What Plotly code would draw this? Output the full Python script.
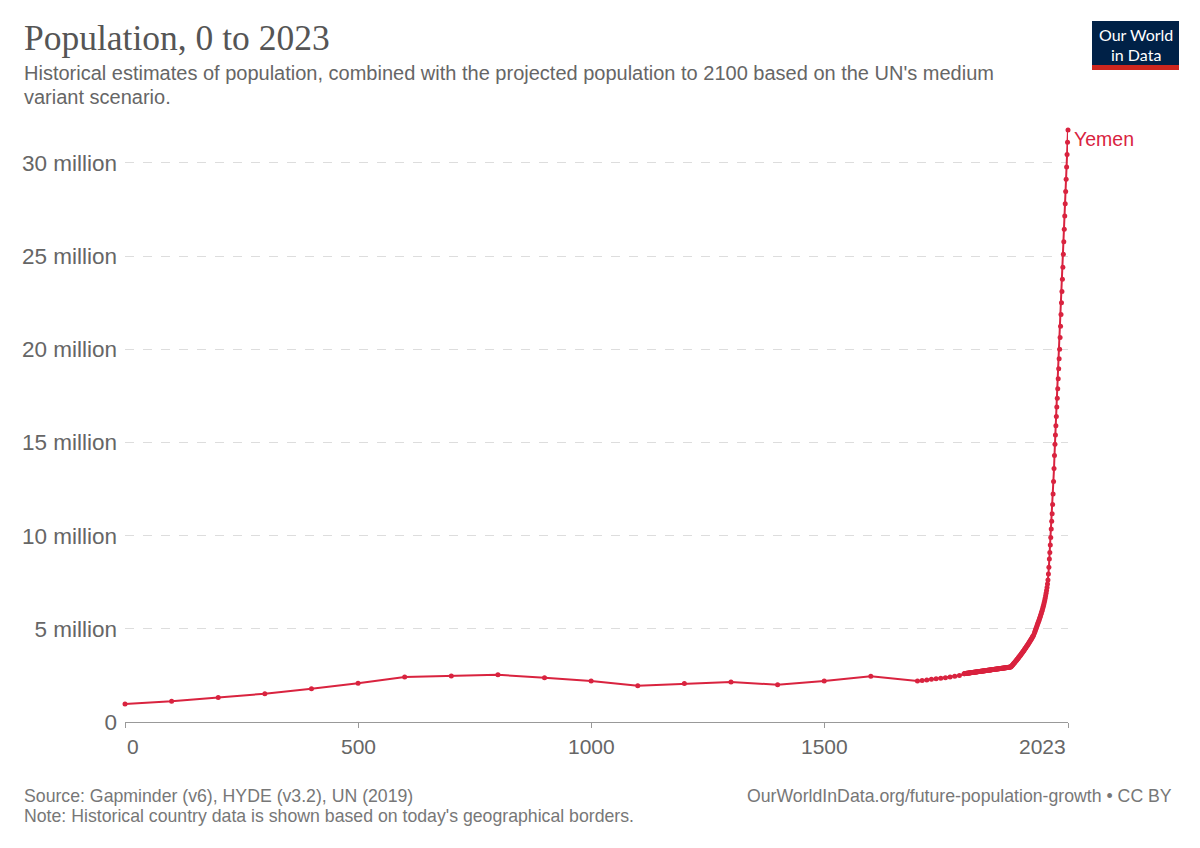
import plotly.graph_objects as go

# ---------------- data ----------------
years_early = [0, 100, 200, 300, 400, 500, 600, 700, 800, 900, 1000, 1100, 1200,
               1300, 1400, 1500, 1600]
pop_early = [0.97, 1.11, 1.31, 1.52, 1.79, 2.08, 2.42, 2.47, 2.53, 2.38, 2.20, 1.95,
             2.06, 2.15, 2.00, 2.20, 2.46]

years_decadal = [1700, 1710, 1720, 1730, 1740, 1750, 1760, 1770, 1780, 1790]
pop_decadal = [2.20, 2.23, 2.26, 2.29, 2.32, 2.35, 2.38, 2.42, 2.46, 2.50]

years_1800 = list(range(1800, 1950))
pop_1800 = [
    2.593, 2.596, 2.600, 2.604, 2.607, 2.611, 2.614, 2.618, 2.621, 2.625,
    2.629, 2.632, 2.636, 2.639, 2.643, 2.646, 2.650, 2.654, 2.657, 2.661,
    2.664, 2.668, 2.671, 2.675, 2.679, 2.682, 2.686, 2.689, 2.693, 2.696,
    2.700, 2.704, 2.707, 2.711, 2.714, 2.718, 2.721, 2.725, 2.729, 2.732,
    2.736, 2.739, 2.743, 2.746, 2.750, 2.754, 2.757, 2.761, 2.764, 2.768,
    2.771, 2.775, 2.779, 2.782, 2.786, 2.789, 2.793, 2.796, 2.800, 2.804,
    2.807, 2.811, 2.814, 2.818, 2.821, 2.825, 2.829, 2.832, 2.836, 2.839,
    2.843, 2.846, 2.850, 2.854, 2.857, 2.861, 2.864, 2.868, 2.871, 2.875,
    2.879, 2.882, 2.886, 2.889, 2.893, 2.896, 2.900, 2.904, 2.907, 2.911,
    2.914, 2.918, 2.921, 2.925, 2.929, 2.932, 2.936, 2.939, 2.943, 2.946,
    2.950, 2.978, 3.006, 3.035, 3.063, 3.092, 3.121, 3.150, 3.180, 3.209,
    3.239, 3.270, 3.300, 3.331, 3.362, 3.394, 3.425, 3.457, 3.490, 3.522,
    3.555, 3.588, 3.622, 3.656, 3.690, 3.724, 3.759, 3.794, 3.830, 3.865,
    3.901, 3.938, 3.975, 4.012, 4.049, 4.087, 4.125, 4.164, 4.203, 4.242,
    4.282, 4.322, 4.362, 4.403, 4.444, 4.486, 4.528, 4.570, 4.613, 4.656,
]

years_modern = list(range(1951, 2024))
pop_modern = [
    4.78, 4.85, 4.92, 4.99, 5.06, 5.13, 5.20, 5.27, 5.34, 5.41,
    5.48, 5.55, 5.62, 5.70, 5.78, 5.86, 5.94, 6.03, 6.12, 6.21,
    6.31, 6.41, 6.52, 6.64, 6.77, 6.91, 7.06, 7.22, 7.40, 7.62,
    7.94, 8.30, 8.75, 9.10, 9.50, 9.90, 10.36, 10.77, 11.17, 11.67,
    12.24, 12.90, 13.60, 14.30, 14.90, 15.40, 15.90, 16.40, 16.90, 17.38,
    17.89, 18.42, 18.96, 19.50, 20.00, 20.63, 21.24, 21.87, 22.50, 23.10,
    23.76, 24.40, 25.10, 25.77, 26.45, 27.15, 27.81, 28.47, 29.13, 29.79,
    30.45, 31.11, 31.77,
]

years = years_early + years_decadal + years_1800 + years_modern
pop_m = pop_early + pop_decadal + pop_1800 + pop_modern
population = [v * 1e6 for v in pop_m]

country = "Yemen"
x_ticks = [0, 500, 1000, 1500, 2023]
x_tick_text = ["0", "500", "1000", "1500", "2023"]
y_ticks = [0, 5e6, 10e6, 15e6, 20e6, 25e6, 30e6]
y_tick_text = ["0", "5 million", "10 million", "15 million", "20 million",
               "25 million", "30 million"]

title = "Population, 0 to 2023"
subtitle1 = "Historical estimates of population, combined with the projected population to 2100 based on the UN's medium"
subtitle2 = "variant scenario."
source = "Source: Gapminder (v6), HYDE (v3.2), UN (2019)"
note = "Note: Historical country data is shown based on today's geographical borders."
url = "OurWorldInData.org/future-population-growth • CC BY"

# ---------------- style ----------------
RED = "#d9233f"
GREY = "#666666"
SANS = "Liberation Sans, Arial, sans-serif"
SERIF = "Liberation Serif, Times New Roman, serif"

L, R, T, B = 125, 132, 130, 126
W, H = 1200, 848
PW, PH = W - L - R, H - T - B


def px(xp):
    return (xp - L) / PW


def py(yp):
    return (H - B - yp) / PH


fig = go.Figure()
fig.add_trace(go.Scatter(
    x=years, y=population, mode="lines+markers",
    line=dict(color=RED, width=2),
    marker=dict(color=RED, size=5),
    cliponaxis=False, showlegend=False,
))

ymax = max(population)

fig.update_layout(
    width=W, height=H,
    margin=dict(l=L, r=R, t=T, b=B, pad=0),
    paper_bgcolor="white", plot_bgcolor="white",
    font=dict(family=SANS, color=GREY),
    xaxis=dict(
        range=[0, 2023], tickvals=x_ticks, ticktext=["" for _ in x_ticks],
        showgrid=False, zeroline=False, showline=True, linecolor="#999999",
        linewidth=1, ticks="outside", ticklen=5, tickcolor="#999999",
        fixedrange=True,
    ),
    yaxis=dict(
        range=[0, ymax], tickvals=y_ticks, ticktext=y_tick_text,
        showgrid=True, gridcolor="#dddddd", griddash="dash", gridwidth=1,
        zeroline=False, showline=False, ticks="", ticklabelstandoff=7,
        tickfont=dict(size=22.5, color=GREY, family=SANS),
    ),
)

annotations = []
for v, t in zip(x_ticks, x_tick_text):
    anchor = "left" if v == x_ticks[0] else ("right" if v == x_ticks[-1] else "center")
    annotations.append(dict(
        x=v, y=0, xref="x", yref="y", text=t, showarrow=False,
        xanchor=anchor, yanchor="middle", yshift=-24,
        font=dict(size=21, color=GREY, family=SANS),
    ))

annotations.append(dict(
    x=years[-1], y=population[-1], xref="x", yref="y", text=country,
    showarrow=False, xanchor="left", yanchor="middle", xshift=4, yshift=-9,
    font=dict(size=19.5, color=RED, family=SANS),
))

annotations += [
    dict(x=px(22), y=py(38), xref="paper", yref="paper", text=title,
         showarrow=False, xanchor="left", yanchor="middle",
         font=dict(size=35.5, color="#555555", family=SERIF)),
    dict(x=px(22), y=py(73), xref="paper", yref="paper", text=subtitle1,
         showarrow=False, xanchor="left", yanchor="middle",
         font=dict(size=20, color=GREY, family=SANS)),
    dict(x=px(22), y=py(97), xref="paper", yref="paper", text=subtitle2,
         showarrow=False, xanchor="left", yanchor="middle",
         font=dict(size=20, color=GREY, family=SANS)),
    dict(x=px(22), y=py(796), xref="paper", yref="paper", text=source,
         showarrow=False, xanchor="left", yanchor="middle",
         font=dict(size=17.7, color="#777777", family=SANS)),
    dict(x=px(22), y=py(816), xref="paper", yref="paper", text=note,
         showarrow=False, xanchor="left", yanchor="middle",
         font=dict(size=17.7, color="#777777", family=SANS)),
    dict(x=px(1174), y=py(796), xref="paper", yref="paper", text=url,
         showarrow=False, xanchor="right", yanchor="middle",
         font=dict(size=17.7, color="#777777", family=SANS)),
    dict(x=px(1135.5), y=py(35), xref="paper", yref="paper", text="Our World",
         showarrow=False, xanchor="center", yanchor="middle",
         font=dict(size=16, color="white", family="Lato, " + SANS)),
    dict(x=px(1135.5), y=py(54), xref="paper", yref="paper", text="in Data",
         showarrow=False, xanchor="center", yanchor="middle",
         font=dict(size=16, color="white", family="Lato, " + SANS)),
]
fig.update_layout(annotations=annotations)

fig.update_layout(shapes=[
    dict(type="rect", xref="paper", yref="paper", x0=px(1092), x1=px(1179),
         y0=py(70), y1=py(21), fillcolor="#002147", line=dict(width=0), layer="below"),
    dict(type="rect", xref="paper", yref="paper", x0=px(1092), x1=px(1179),
         y0=py(70), y1=py(65), fillcolor="#ce261e", line=dict(width=0), layer="below"),
])

fig.write_html("out.html", config={"displayModeBar": False},
               post_script="document.body.style.margin='0';")
